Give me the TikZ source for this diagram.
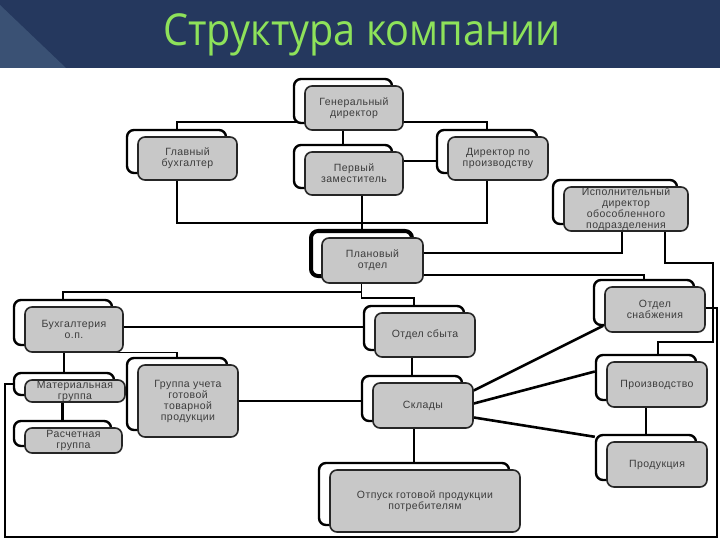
\documentclass[tikz,border=0pt]{standalone}
\usepackage{fontspec}
\usepackage{graphicx}
\setmainfont{Liberation Sans}
\newfontfamily\titlefont{Open Sans}
\usetikzlibrary{backgrounds}
\definecolor{navy}{HTML}{25385E}
\definecolor{navylight}{HTML}{3A5174}
\definecolor{boxgray}{HTML}{C8C8C8}
\definecolor{titlegreen}{HTML}{8EE25A}
\definecolor{txtgray}{HTML}{3C3C3C}
\tikzset{
 backbox/.style={draw=black, fill=white, line width=2.4pt, rounded corners=7pt, inner sep=0pt},
 frontbox/.style={draw=black!85, fill=boxgray, line width=1.6pt, rounded corners=7pt, inner sep=0pt,
   align=center, font=\fontsize{10.5}{11}\selectfont\addfontfeature{LetterSpace=4}, text=txtgray},
 thinline/.style={line width=1.2pt},
 midline/.style={line width=2pt},
 thickline/.style={line width=2.6pt},
}
\newcommand\orgbox[7][]{%
  \node[backbox, #1, minimum width={#5-#3}, minimum height={#6-#4}] (#2-b) at ({(#3+#5)/2-11},{(#4+#6)/2-7}) {};
  \node[frontbox, minimum width={#5-#3}, minimum height={#6-#4}] (#2) at ({(#3+#5)/2},{(#4+#6)/2}) {#7};
}
\begin{document}
\begin{tikzpicture}[x=1pt,y=-1pt]
\useasboundingbox (0,0) rectangle (720,540);
% boxes
\orgbox{gen}{305}{86}{403}{130}{Генеральный\\директор}
\orgbox{glav}{138}{137}{237}{180}{Главный\\бухгалтер}
\orgbox{perv}{305}{152}{403}{195}{Первый\\заместитель}
\orgbox{dirp}{448}{137}{548}{180}{Директор по\\производству}
\orgbox{isp}{564}{187}{688}{231}{Исполнительный\\директор\\обособленного\\подразделения}
\orgbox[line width=4pt]{plan}{322}{238}{423}{283}{Плановый\\отдел}
\orgbox{buh}{25}{307}{123}{352}{Бухгалтерия\\о.п.}
\orgbox{mat}{25}{380}{125}{402}{Материальная\\группа}
\orgbox{rasch}{25}{428}{122}{453}{Расчетная\\группа}
\orgbox{grp}{138}{365}{238}{437}{Группа учета\\готовой\\товарной\\продукции}
\orgbox{sbyt}{375}{313}{475}{357}{Отдел сбыта}
\orgbox{sklad}{373}{383}{473}{428}{Склады}
\orgbox{otp}{330}{470}{520}{532}{Отпуск готовой продукции\\потребителям}
\orgbox{snab}{605}{287}{705}{332}{Отдел\\снабжения}
\orgbox{proiz}{607}{362}{707}{407}{Производство}
\orgbox{prod}{607}{442}{707}{487}{Продукция}
% title
\node[font=\titlefont\fontsize{44}{44}\selectfont, text=titlegreen] (title) at (362,35) {\scalebox{0.9}[1]{Структура компании}};
\begin{pgfonlayer}{background}
\fill[navy] (0,0) rectangle (720,68);
\fill[navylight] (0,5) -- (66,68) -- (0,68) -- cycle;
\coordinate (h1) at (0,122);
\coordinate (h2) at (0,161);
\coordinate (h3) at (0,223);
\coordinate (h4) at (0,253);
\coordinate (v1) at (622,0);
\coordinate (h5) at (0,275);
\coordinate (h6) at (0,292);
\coordinate (h7) at (0,298);
\coordinate (h8) at (0,327);
\coordinate (a1) at (665,263);
\coordinate (a2) at (713,342);
\coordinate (a3) at (658,342);
\coordinate (b1) at (717,308);
\coordinate (b2) at (5,537);
\draw[midline] (gen.west |- h1) -| (glav-b.north);
\draw[midline] (gen.east |- h1) -| (dirp-b.north);
\draw[midline] (perv-b.north |- gen.south) -- (perv-b.north);
\draw[midline] (perv.east |- h2) -- (dirp-b.west |- h2);
\draw[midline] (glav-b.south |- glav.south) |- (dirp-b.south |- h3) -- (dirp-b.south |- dirp.south);
\draw[midline] (plan-b.north |- perv.south) -- (plan-b.north);
\draw[thickline] (plan.east |- h4) -| (v1 |- isp.south);
\draw[thinline] (plan.east |- h5) -| (snab-b.north);
\draw[thinline] (plan-b.south |- plan.south) -- (plan-b.south |- h7) -| (sbyt-b.north);
\draw[thinline] (plan-b.south |- h6) -| (buh-b.north);
\draw[thickline] (buh.east |- h8) -- (sbyt-b.west |- h8);
\draw[thickline] (mat-b.north |- buh.south) -- (mat-b.north);
\draw[thinline] (buh.south) -| (grp-b.north);
\draw[thickline] (rasch-b.north |- mat.south) -- (rasch-b.north);
\draw[thickline] (grp.east) -- (sklad-b.west |- grp.east);
\draw[thinline] (sklad-b.north |- sbyt.south) -- (sklad-b.north);
\draw[thinline] (otp-b.north |- sklad.south) -- (otp-b.north);
\draw[thickline] ([yshift=15pt]sklad.east) -- ([xshift=-1pt,yshift=7pt]snab.south west);
\draw[thickline] ([yshift=2pt]sklad.east) -- ([yshift=6pt]proiz-b.west);
\draw[thickline] ([yshift=-12pt]sklad.east) -- ([yshift=-3pt]prod-b.north west);
\draw[midline] (prod-b.north |- proiz.south) -- (prod-b.north);
\draw[midline] (a1 |- isp.south) -- (a1) -| (a2) -| (a3 |- proiz-b.north);
\draw[midline] (snab.east |- b1) -- (b1) |- (b2) |- (mat-b.west);
\end{pgfonlayer}
\end{tikzpicture}
\end{document}
